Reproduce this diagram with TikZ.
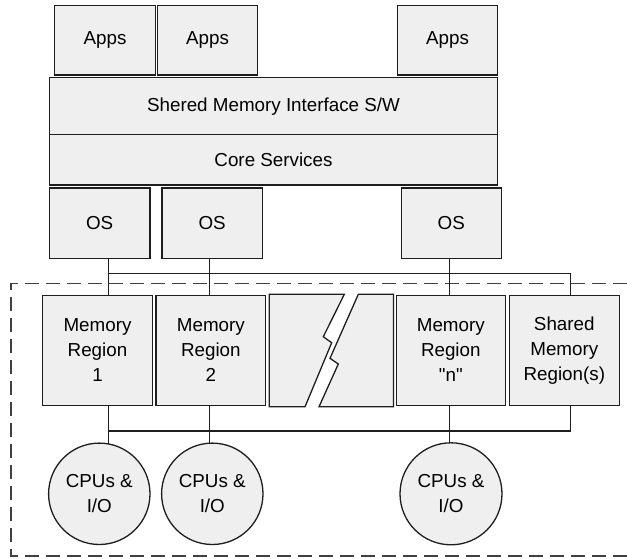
\documentclass[tikz,border=0pt]{standalone}
\usepackage{fontspec}
\setmainfont{Liberation Sans}
\usetikzlibrary{backgrounds}
\definecolor{boxfill}{HTML}{EFEFEF}
\definecolor{edgec}{HTML}{1E1E1E}
\definecolor{dashc}{HTML}{404040}
\tikzset{
  box/.style={draw=edgec, fill=boxfill, line width=1.3pt, inner sep=0pt, align=center,
    font=\fontsize{18.8}{25}\selectfont, text=black},
  cpu/.style={box, circle},
  link/.style={draw=edgec, line width=1.3pt},
  frame/.style={draw=dashc, line width=1.3pt, dash pattern=on 14pt off 7pt},
}
\begin{document}
\begin{tikzpicture}[x=1pt,y=-1pt]
\useasboundingbox (0,0) rectangle (627,558);
% top stack
\node[box, minimum width=100.6, minimum height=69.7] (apps1) at (105,40.15) {Apps};
\node[box, minimum width=100.4, minimum height=69.7] (apps2) at (207.5,40.15) {Apps};
\node[box, minimum width=100.4, minimum height=69.7] (apps3) at (447.5,40.15) {Apps};
\node[box, minimum width=448.4, minimum height=57] (smi) at (273.5,106.2) {Shered Memory Interface S/W};
\node[box, minimum width=448.4, minimum height=50.3] (core) at (273.5,159.85) {Core Services};
\node[box, minimum width=100.7, minimum height=70.7] (os1) at (99.65,223.35) {OS};
\node[box, minimum width=100.3, minimum height=70.7] (os2) at (212.15,223.35) {OS};
\node[box, minimum width=100, minimum height=70.7] (os3) at (451.3,223.35) {OS};
% memory regions
\node[box, minimum width=109.6, minimum height=110] (mr1) at (97.5,350.3) {Memory\\Region\\1};
\node[box, minimum width=109.7, minimum height=110] (mr2) at (210.85,350.3) {Memory\\Region\\2};
\node[box, minimum width=109, minimum height=110] (mrn) at (450.8,350.3) {Memory\\Region\\\textquotedbl n\textquotedbl};
\node[box, minimum width=110, minimum height=110] (shared) at (564.3,350.3) {Shared\\Memory\\Region(s)};
% break symbol
\path[box] (269.3,294.3) -- (344.3,294.3) -- (323.3,336.7) -- (331.7,342.7) -- (305,406.8) -- (269.3,406.8) -- cycle;
\path[box] (358.3,294.3) -- (393.5,294.3) -- (393.5,406.8) -- (319,406.8) -- (338.3,364) -- (330,358.3) -- cycle;
% CPUs
\node[cpu, minimum size=101.4] (cpu1) at (99.3,493.8) {CPUs \&\\I/O};
\node[cpu, minimum size=101.4] (cpu2) at (212.3,493.8) {CPUs \&\\I/O};
\node[cpu, minimum size=102] (cpu3) at (451,493.8) {CPUs \&\\I/O};
% tap positions and bus levels
\coordinate (x1) at (108.3,0);
\coordinate (x2) at (209.7,0);
\coordinate (x3) at (449.7,0);
\coordinate (x4) at (570.7,0);
\coordinate (topbus) at (0,273.7);
\coordinate (botbus) at (0,431);
\begin{pgfonlayer}{background}
  \draw[frame] (627,283.3) -- (11,283.3) -- (11,556) -- (627,556);
  \draw[link] (topbus -| x1) -- (topbus -| x4);
  \draw[link] (os1.south -| x1) -- (mr1.north -| x1);
  \draw[link] (os2.south -| x2) -- (mr2.north -| x2);
  \draw[link] (os3.south -| x3) -- (mrn.north -| x3);
  \draw[link] (topbus -| x4) -- (shared.north -| x4);
  \draw[link] (botbus -| x1) -- (botbus -| x4);
  \draw[link] (mr1.south -| x1) -- (cpu1.center -| x1);
  \draw[link] (mr2.south -| x2) -- (cpu2.center -| x2);
  \draw[link] (mrn.south -| x3) -- (cpu3.center -| x3);
  \draw[link] (shared.south -| x4) -- (botbus -| x4);
\end{pgfonlayer}
\end{tikzpicture}
\end{document}
